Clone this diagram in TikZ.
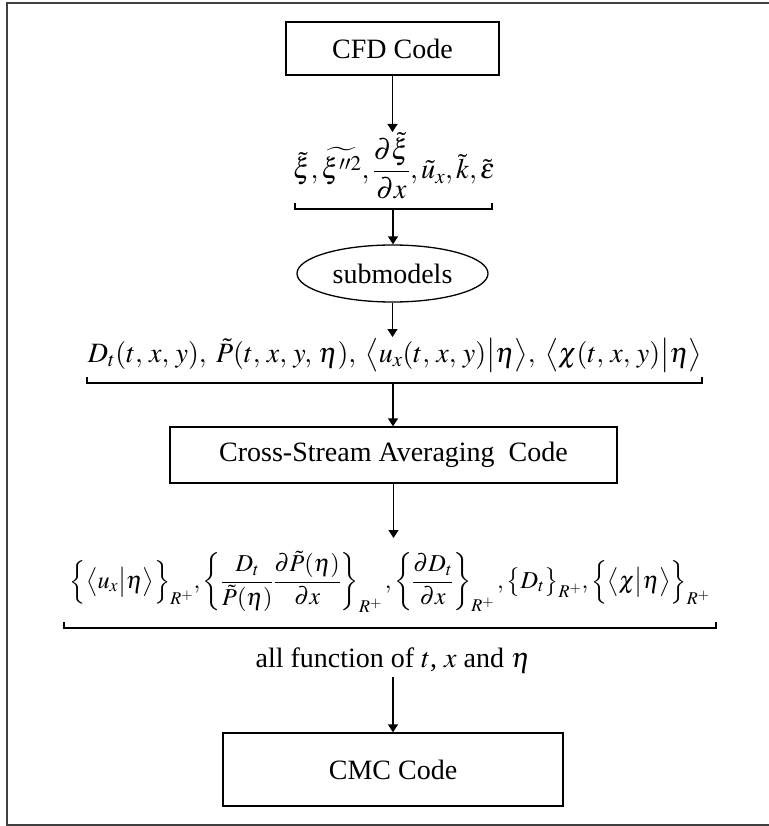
\documentclass[tikz,border=0pt]{standalone}
\usepackage{amsmath}
\usepackage{mathptmx}
\usepackage{graphicx}
\usepackage[no-math]{fontspec}
\setmainfont{Liberation Serif}
\usetikzlibrary{arrows.meta,shapes.geometric}
\tikzset{
  frame/.style={draw=black!75, line width=1.8pt},
  codebox/.style={draw, line width=1.3pt, font=\fontsize{28}{32}\selectfont, inner sep=0pt},
  formula/.style={inner sep=0pt, font=\fontsize{28}{32}\selectfont},
  arr/.style={line width=1.3pt, -{Triangle[width=10pt,length=8pt]}},
  brace/.style={line width=1.5pt}
}
\begin{document}
\begin{tikzpicture}[x=1pt,y=-1pt]
\useasboundingbox (0,0) rectangle (768,826);
\draw[frame] (7,3) rectangle (775,825);

\node[codebox, minimum width=213pt, minimum height=53pt] (cfd) at (392.5,48.5) {CFD Code};

\node[formula] (l1) at (394,166) {\resizebox{202pt}{!}{$\tilde{\xi},\widetilde{\xi^{\prime\prime 2}},\dfrac{\partial\tilde{\xi}}{\partial x},\tilde{u}_x,\tilde{k},\tilde{\varepsilon}$}};
\coordinate (b1) at (393,209);
\draw[brace] (295,203) -- (295,209) -- (492,209) -- (492,203);

\node[ellipse, draw, line width=1.3pt, minimum width=191pt, minimum height=57pt, inner sep=0pt, font=\fontsize{28}{32}\selectfont] (sub) at (392.5,273.5) {submodels};

\node[formula] (l2) at (395,355) {\resizebox{614pt}{!}{$D_t(t,\,x,\,y),\;\tilde{P}(t,\,x,\,y,\,\eta),\;\big\langle u_x(t,\,x,\,y)\big|\eta\big\rangle,\;\big\langle\chi(t,\,x,\,y)\big|\eta\big\rangle$}};
\coordinate (b2) at (393,383);
\draw[brace] (87,377) -- (87,383) -- (702,383) -- (702,377);

\node[codebox, minimum width=447pt, minimum height=56pt] (cs) at (393.5,455) {Cross-Stream Averaging\ \ Code};

\node[formula] (l3) at (390,582) {\resizebox{640pt}{!}{$\Big\{\big\langle u_x\big|\eta\big\rangle\Big\}_{R^+},\left\{\dfrac{D_t}{\tilde{P}(\eta)}\dfrac{\partial\tilde{P}(\eta)}{\partial x}\right\}_{R^+},\left\{\dfrac{\partial D_t}{\partial x}\right\}_{R^+},\big\{D_t\big\}_{R^+},\Big\{\big\langle\chi\big|\eta\big\rangle\Big\}_{R^+}$}};
\coordinate (b3) at (393,628);
\draw[brace] (64,622) -- (64,628) -- (716,628) -- (716,622);

\node[formula] (txt) at (393,660) {all function of $t$, $x$ and $\eta$};

\node[codebox, minimum width=340pt, minimum height=73pt] (cmc) at (393,769.5) {CMC Code};

\draw[arr] (cfd.south) -- (cfd.south |- 0,132);
\draw[arr] (b1) -- (b1 |- sub.north);
\draw[arr] (sub.south) -- (sub.south |- 0,337);
\draw[arr] (b2) -- (b2 |- cs.north);
\draw[arr] (cs.south) -- (cs.south |- 0,538);
\draw[arr] (txt.south) ++(0,4) -- (cmc.north);
\end{tikzpicture}
\end{document}
